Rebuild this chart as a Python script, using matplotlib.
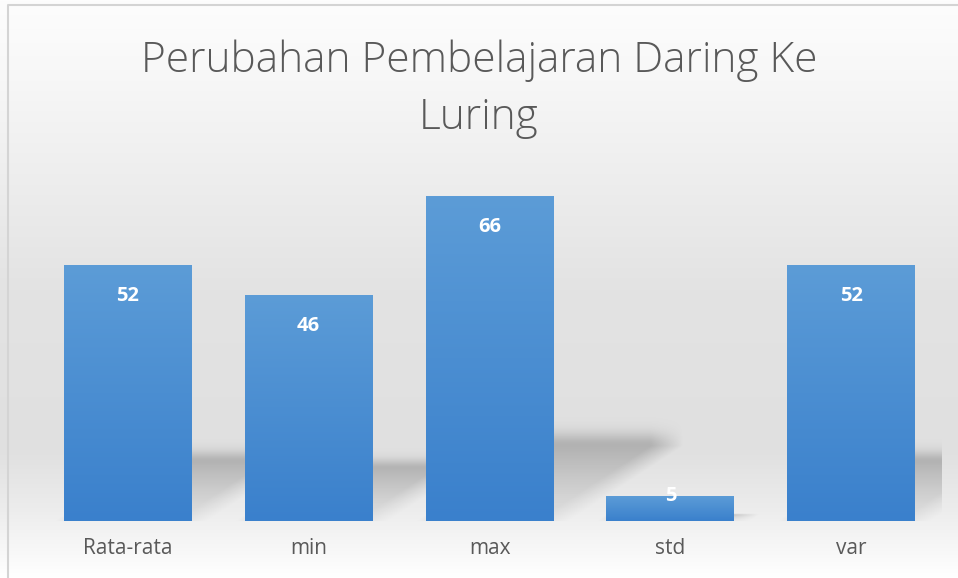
import numpy as np
import matplotlib
matplotlib.use("Agg")
import matplotlib.pyplot as plt
from matplotlib.colors import LinearSegmentedColormap

categories = ["Rata-rata", "min", "max", "std", "var"]
values = [52, 46, 66, 5, 52]
title = "Perubahan Pembelajaran Daring Ke\nLuring"

plt.rcParams['font.family'] = ['Open Sans', 'DejaVu Sans']

fig = plt.figure(figsize=(9.58, 5.78), dpi=100)

# background gradient (white -> light gray -> white)
bg = fig.add_axes([0, 0, 1, 1], zorder=-10)
stops = [(0.0, "#fdfdfd"), (0.12, "#f8f8f8"), (0.3, "#eeeeee"),
         (0.5, "#e3e3e3"), (0.78, "#e0e0e0"), (0.88, "#ececec"),
         (1.0, "#ffffff")]
bg_cmap = LinearSegmentedColormap.from_list("bg", stops)
grad = np.linspace(0, 1, 256).reshape(-1, 1)
bg.imshow(grad, aspect="auto", cmap=bg_cmap, extent=[0, 1, 0, 1], origin="upper")
bg.set_xlim(0, 1)
bg.set_ylim(0, 1)
bg.axis("off")
# chart frame (left and top edges visible)
bg.plot([0.008, 0.008, 1.0], [0.0, 0.991, 0.991], color="#d4d4d4", lw=1.5)

ax = fig.add_axes([0.039, 0.0986, 0.944, 0.596])
ax.patch.set_alpha(0)
x = np.arange(len(categories))
width = 0.707
xlim = (-0.5, len(categories) - 0.5)
ylim = (0, 70)

bar_cmap = LinearSegmentedColormap.from_list("bar", ["#5c9cd7", "#3a80cc"])

bars = ax.bar(x, values, width=width, color="none", edgecolor="none", zorder=3)

# soft perspective shadows leaning to the right, darkest along the top edge
gx = np.linspace(xlim[0], xlim[1], 900)
gy = np.linspace(ylim[0], ylim[1], 400)
GX, GY = np.meshgrid(gx, gy)
alpha = np.zeros_like(GX)
for b, v in zip(bars, values):
    x0, x1 = b.get_x(), b.get_x() + b.get_width()
    sh_h = v * 0.23
    skew = v * 0.0095
    t = GY / sh_h
    shift = skew * np.clip(t, 0, 1)
    left = np.clip((GX - (x0 + shift)) / 0.1 + 0.5, 0, 1)
    right = np.clip(((x1 + shift) - GX) / 0.18 + 0.5, 0, 1)
    body = np.where(t <= 1, 0.3 + 0.7 * np.clip(t, 0, 1) ** 1.5,
                    np.exp(-((t - 1) / 0.18) ** 2))
    a = 0.42 * left * right * body
    alpha = np.maximum(alpha, a)
shadow = np.zeros(GX.shape + (4,))
shadow[..., :3] = 0.45
shadow[..., 3] = alpha
ax.imshow(shadow, aspect="auto", origin="lower",
          extent=[xlim[0], xlim[1], ylim[0], ylim[1]], zorder=1,
          interpolation="bilinear")

for b, v in zip(bars, values):
    x0, x1 = b.get_x(), b.get_x() + b.get_width()
    im2 = ax.imshow(grad, aspect="auto", cmap=bar_cmap, origin="upper",
                    extent=[x0, x1, 0, v], zorder=3)
    im2.set_clip_path(b)
    ly = v - 6.3 if v > 12 else v + 0.1
    ax.text(x0 + b.get_width() / 2, ly, str(v), ha="center", va="center",
            color="white", fontsize=14.5, fontweight="bold", zorder=5)

ax.set_xlim(*xlim)
ax.set_ylim(*ylim)
ax.set_xticks(x)
ax.set_xticklabels(categories, fontsize=15, color="#595959")
ax.tick_params(axis="x", length=0, pad=12)
ax.set_yticks([])
for s in ax.spines.values():
    s.set_visible(False)

fig.text(0.5, 0.845, title, ha="center", va="center", fontsize=30.5,
         fontweight="light", color="#595959", linespacing=1.45)

fig.savefig("out.png", dpi=100)
